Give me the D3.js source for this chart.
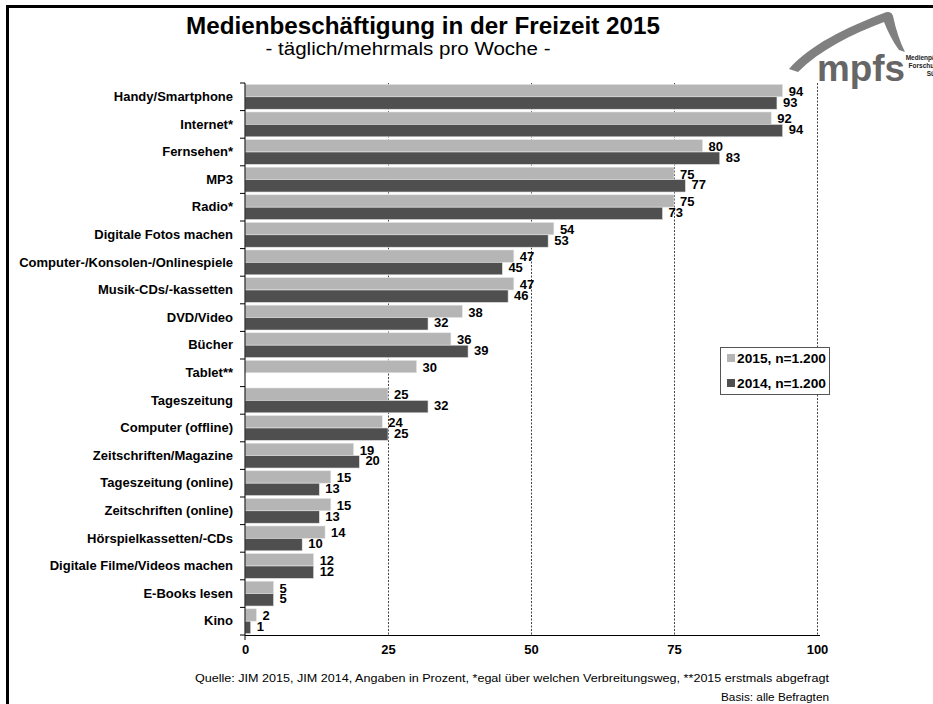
<!DOCTYPE html>
<html><head><meta charset="utf-8">
<script src="https://cdn.jsdelivr.net/npm/d3@7"></script>
<style>
html,body{margin:0;padding:0;background:#fff;}
svg{display:block;}
text{font-family:"Liberation Sans",Arial,Helvetica,sans-serif;}
</style></head>
<body>
<svg id="chart" width="933" height="704"></svg>
<script>
const categories = ["Handy/Smartphone","Internet*","Fernsehen*","MP3","Radio*","Digitale Fotos machen","Computer-/Konsolen-/Onlinespiele","Musik-CDs/-kassetten","DVD/Video","Bücher","Tablet**","Tageszeitung","Computer (offline)","Zeitschriften/Magazine","Tageszeitung (online)","Zeitschriften (online)","Hörspielkassetten/-CDs","Digitale Filme/Videos machen","E-Books lesen","Kino"];
const values2015 = [94,92,80,75,75,54,47,47,38,36,30,25,24,19,15,15,14,12,5,2];
const values2014 = [93,94,83,77,73,53,45,46,32,39,null,32,25,20,13,13,10,12,5,1];
const seriesNames = ["2015, n=1.200","2014, n=1.200"];
const xTicks = [0,25,50,75,100];
const title = "Medienbeschäftigung in der Freizeit 2015";
const subtitle = "- täglich/mehrmals pro Woche -";
const source = "Quelle: JIM 2015, JIM 2014, Angaben in Prozent, *egal über welchen Verbreitungsweg, **2015 erstmals abgefragt";
const basis = "Basis: alle Befragten";
const logoLines = ["Medienpädagogischer","Forschungsverbund","Südwest"];

const colors = ["#b5b5b5","#4f4f4f"];
const svg = d3.select("#chart");

// frame
svg.append("path").attr("d","M7.5,704 L7.5,6.5 L933,6.5").attr("fill","none").attr("stroke","#000").attr("stroke-width",3);

// title
svg.append("text").attr("x",423).attr("y",34).attr("text-anchor","middle")
  .attr("font-size",24).attr("font-weight","bold").attr("textLength",474).attr("lengthAdjust","spacingAndGlyphs").text(title);
svg.append("text").attr("x",408).attr("y",55).attr("text-anchor","middle")
  .attr("font-size",18).attr("textLength",285).attr("lengthAdjust","spacingAndGlyphs").text(subtitle);

// logo
const logo = svg.append("g");
logo.append("path").attr("d","M789,69 C810,45 845,28 884,13 C888,11 892,12 893,16 C896,30 900,42 905,52 L899,50 C893,42 888,32 884,22 C852,34 820,50 798,72 Z").attr("fill","#808080");
logo.append("text").attr("x",861).attr("y",81).attr("text-anchor","middle").attr("font-size",36).attr("font-weight","bold").attr("fill","#666")
  .attr("textLength",88).attr("lengthAdjust","spacingAndGlyphs").text("mpfs");
logoLines.forEach((t,i)=>logo.append("text").attr("x",940).attr("y",60+i*8).attr("text-anchor","middle").attr("font-size",6.5).attr("font-weight","bold").attr("fill","#222").text(t));

const x = d3.scaleLinear().domain([0,100]).range([245,817]);
const y = d3.scaleBand().domain(categories).range([83,635]).paddingInner(0.1).paddingOuter(0.05);
const ySub = d3.scaleBand().domain([0,1]).range([0,y.bandwidth()]);
const step = y.step();

// grid dashed
svg.append("g").selectAll("line").data(xTicks.slice(1)).join("line")
  .attr("x1",d=>x(d)+0.5).attr("x2",d=>x(d)+0.5).attr("y1",83).attr("y2",635)
  .attr("stroke","#444").attr("stroke-width",1).attr("stroke-dasharray","2,1.5");

// bars
const data = categories.map((c,i)=>({c,v:[values2015[i],values2014[i]]}));
const g = svg.append("g");
data.forEach(d=>{
  d.v.forEach((v,j)=>{
    if(v==null) return;
    g.append("rect").attr("x",x(0)).attr("y",y(d.c)+ySub(j)).attr("width",x(v)-x(0)).attr("height",ySub.bandwidth())
      .attr("fill",colors[j]).attr("stroke","#e6e6e6").attr("stroke-width",0.6);
  });
});
// value labels
data.forEach(d=>{
  d.v.forEach((v,j)=>{
    if(v==null) return;
    const cy = y(d.c)+ySub(j)+ySub.bandwidth()/2 + (j===0?0.5:-1);
    g.append("text").attr("x",x(v)+6).attr("y",cy).attr("dy","0.36em")
      .attr("font-size",13).attr("font-weight","bold").text(v);
  });
});

// y axis
const yAxis = svg.append("g").attr("transform","translate(245,0)")
  .call(d3.axisLeft(y).tickSize(0).tickPadding(12));
yAxis.select(".domain").remove();
yAxis.selectAll("text").attr("font-size",13).attr("font-weight","bold").attr("fill","#000")
  .style("font-family",'"Liberation Sans",Arial,sans-serif');
svg.append("line").attr("x1",245).attr("x2",245).attr("y1",83).attr("y2",635).attr("stroke","#000").attr("stroke-width",1);
const bounds = d3.range(categories.length+1).map(i=>83+i*step);
svg.append("g").selectAll("line").data(bounds).join("line")
  .attr("x1",240).attr("x2",245).attr("y1",d=>d).attr("y2",d=>d).attr("stroke","#000");

// x axis
const xAxis = svg.append("g").attr("transform","translate(0,635)")
  .call(d3.axisBottom(x).tickValues(xTicks).tickSize(0).tickPadding(10));
xAxis.select(".domain").attr("d","M245,0.5H820").attr("stroke","#000");
xAxis.selectAll("text").attr("font-size",13).attr("font-weight","bold").attr("fill","#000")
  .style("font-family",'"Liberation Sans",Arial,sans-serif');
svg.append("line").attr("x1",245).attr("x2",245).attr("y1",635).attr("y2",640).attr("stroke","#000");

// legend
const lg = svg.append("g");
lg.append("rect").attr("x",720.5).attr("y",347.5).attr("width",109).attr("height",47).attr("fill","#fff").attr("stroke","#555");
seriesNames.forEach((s,i)=>{
  lg.append("rect").attr("x",727).attr("y",354+i*25).attr("width",8).attr("height",8).attr("fill",colors[i]);
  lg.append("text").attr("x",737).attr("y",358+i*25).attr("dy","0.36em").attr("font-size",13).attr("font-weight","bold")
    .attr("textLength",89).attr("lengthAdjust","spacingAndGlyphs").text(s);
});

// footer
svg.append("text").attr("x",829).attr("y",682).attr("text-anchor","end").attr("font-size",11.5)
  .attr("textLength",634).attr("lengthAdjust","spacingAndGlyphs").text(source);
svg.append("text").attr("x",829).attr("y",701).attr("text-anchor","end").attr("font-size",11.5)
  .attr("textLength",108).attr("lengthAdjust","spacingAndGlyphs").text(basis);
</script>
</body></html>
